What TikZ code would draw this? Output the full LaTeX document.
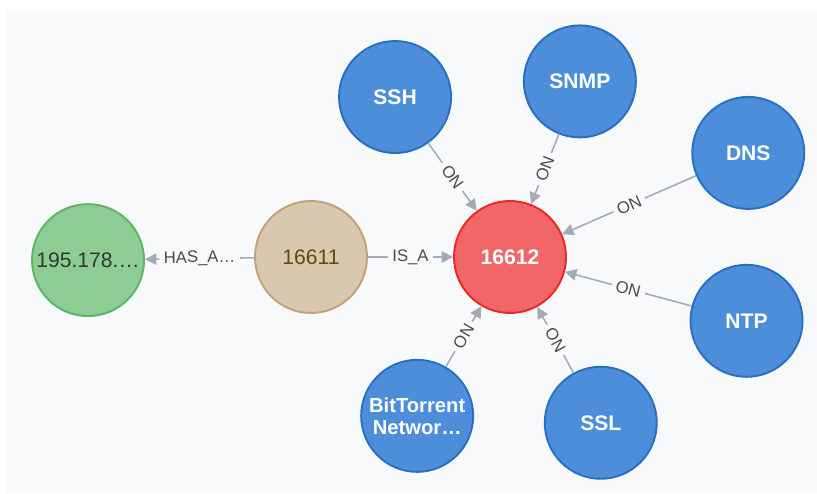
\documentclass[tikz,border=0pt]{standalone}
\usepackage{fontspec}
\setmainfont{Liberation Sans}
\usetikzlibrary{arrows.meta}
\definecolor{panelbg}{HTML}{F8F9FB}
\definecolor{svcfill}{HTML}{4C8EDA}
\definecolor{svcline}{HTML}{2870C2}
\definecolor{hubfill}{HTML}{F16667}
\definecolor{hubline}{HTML}{EB2728}
\definecolor{tanfill}{HTML}{D9C8AE}
\definecolor{tanline}{HTML}{C0A378}
\definecolor{tantext}{HTML}{604A0E}
\definecolor{grnfill}{HTML}{8DCC93}
\definecolor{grnline}{HTML}{5DB665}
\definecolor{grntext}{HTML}{2A3C2C}
\definecolor{relline}{HTML}{A5ABB6}
\definecolor{reltext}{HTML}{4A4A4A}
\begin{document}
\begin{tikzpicture}[x=0.02cm,y=0.02cm,
		nd/.style={circle,draw,line width=1.1pt,minimum size=2.24cm,inner sep=0pt,align=center,font=\fontsize{12}{13}\selectfont},
		svc/.style={nd,fill=svcfill,draw=svcline,text=white,font=\fontsize{12}{13}\selectfont\bfseries},
		hub/.style={nd,fill=hubfill,draw=hubline,text=white,font=\fontsize{12}{13}\selectfont\bfseries},
		tannd/.style={nd,fill=tanfill,draw=tanline,text=tantext},
		grnnd/.style={nd,fill=grnfill,draw=grnline,text=grntext},
		rel/.style={draw=relline,line width=0.9pt,-{Triangle[length=6.5pt,width=6.5pt]}},
		lbl/.style={sloped,fill=panelbg,inner sep=1pt,outer sep=0pt,text=reltext,font=\fontsize{9.5}{10}\selectfont}]
		\fill[white] (0,0) rectangle (817,493);
		\fill[panelbg] (6,0) rectangle (817,483);

		\draw (510,236) node (port)[hub]{16612};
		\draw (port) ++(180:199) node (host)[tannd]{16611};
		\draw (host) ++(180.8:223) node (ip)[grnnd]{195.178.…};
		\draw (port) ++(125.7:197) node (ssh)[svc]{SSH};
		\draw (port) ++(68.3:189) node (snmp)[svc]{SNMP};
		\draw (port) ++(23.6:260) node (dns)[svc]{DNS};
		\draw (port) ++(-15.1:245) node (ntp)[svc]{NTP};
		\draw (port) ++(-61.3:189) node (ssl)[svc]{SSL};
		\draw (port) ++(-120.3:184) node (bt)[svc,font=\fontsize{11.5}{12.5}\selectfont\bfseries]{BitTorrent\\Networ…};

		\draw[rel] (host) -- node[lbl]{\,HAS\_A…\,} (ip);
		\draw[rel] (host) -- node[lbl]{\,IS\_A\,} (port);
		\draw[rel] (ssh) -- node[lbl]{\,ON\,} (port);
		\draw[rel] (snmp) -- node[lbl]{\,ON\,} (port);
		\draw[rel] (dns) -- node[lbl]{\,ON\,} (port);
		\draw[rel] (ntp) -- node[lbl]{\,ON\,} (port);
		\draw[rel] (ssl) -- node[lbl]{\,ON\,} (port);
		\draw[rel] (bt) -- node[lbl]{\,ON\,} (port);
	\end{tikzpicture}
\end{document}
